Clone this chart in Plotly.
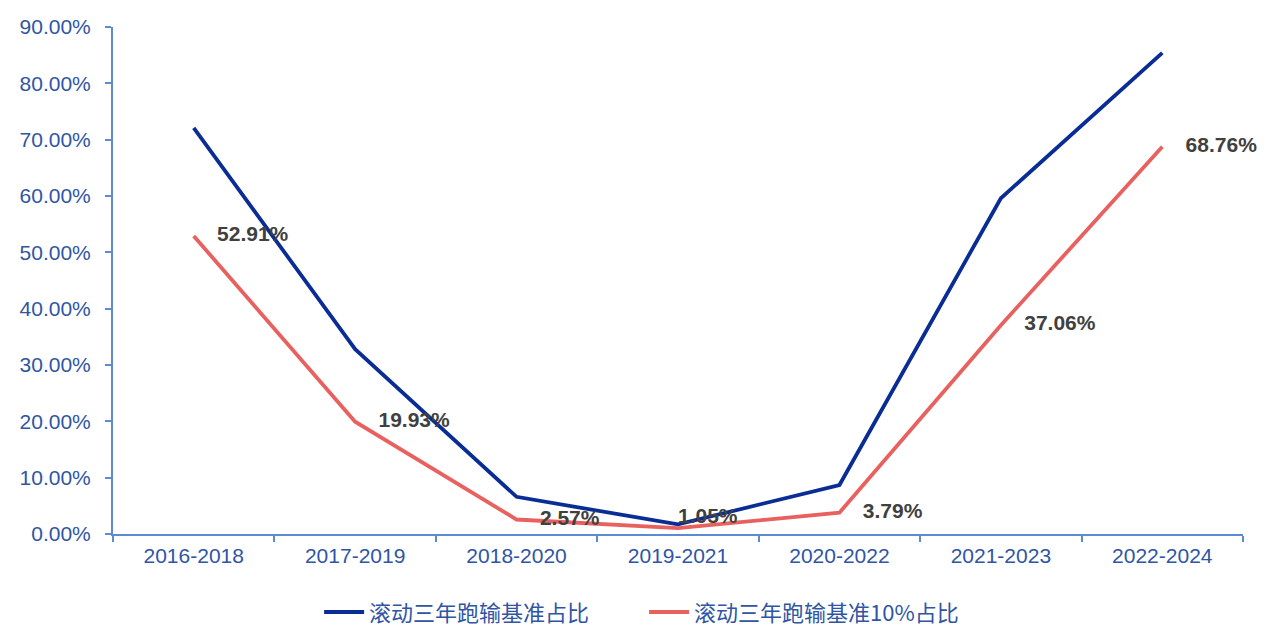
import plotly.graph_objects as go

categories = ["2016-2018", "2017-2019", "2018-2020", "2019-2021", "2020-2022", "2021-2023", "2022-2024"]
series_blue_name = "滚动三年跑输基准占比"
series_blue = [72.1, 32.8, 6.6, 1.7, 8.7, 59.6, 85.4]
series_red_name = "滚动三年跑输基准10%占比"
series_red = [52.91, 19.93, 2.57, 1.05, 3.79, 37.06, 68.76]
red_labels = [f"{v:.2f}%" for v in series_red]
label_positions = ["middle right", "middle right", "middle right", "top right",
                   "middle right", "middle right", "middle right"]

axis_blue = "#5B8BD0"
tick_blue = "#2F55A4"

fig = go.Figure()
fig.add_trace(go.Scatter(
    x=categories, y=series_blue, name=series_blue_name, mode="lines",
    line=dict(color="#0A2D95", width=3.8),
))
fig.add_trace(go.Scatter(
    x=categories, y=series_red, name=series_red_name, mode="lines+text",
    line=dict(color="#E8615E", width=3.8),
    text=["    " + t if p == "middle right" else t for t, p in zip(red_labels, label_positions)],
    textposition=label_positions, cliponaxis=False,
    textfont=dict(family="Liberation Sans, Arial", size=21, color="#404040", weight="bold"),
))

fig.update_layout(
    width=1266, height=636,
    margin=dict(l=105, r=31, t=19, b=110),
    plot_bgcolor="white", paper_bgcolor="white",
    font=dict(family="Liberation Sans, Arial, Noto Sans CJK SC", size=21, color=tick_blue),
    showlegend=True,
    legend=dict(orientation="h", x=0.470, xanchor="center", y=0.05, yref="container",
                yanchor="middle",
                font=dict(family="Noto Sans CJK SC", size=22, color=tick_blue),
                itemwidth=40, tracegroupgap=0, entrywidth=270, entrywidthmode="pixels"),
    xaxis=dict(
        type="category", showgrid=False, showline=True, linecolor=axis_blue, linewidth=2,
        ticks="outside", tickson="boundaries", tickcolor=axis_blue, ticklen=6, tickwidth=2,
        tickfont=dict(size=21, color=tick_blue), range=[-0.5, 6.5],
        ticklabelstandoff=2, automargin=False,
    ),
    yaxis=dict(
        range=[0, 90], dtick=10, tickformat=".2f", ticksuffix="%", showgrid=False,
        showline=True, linecolor=axis_blue, linewidth=2, ticks="outside",
        tickcolor=axis_blue, ticklen=6, tickwidth=2, zeroline=False,
        tickfont=dict(size=21, color=tick_blue), ticklabelstandoff=10, automargin=False,
    ),
)

fig.write_html("out.html")
